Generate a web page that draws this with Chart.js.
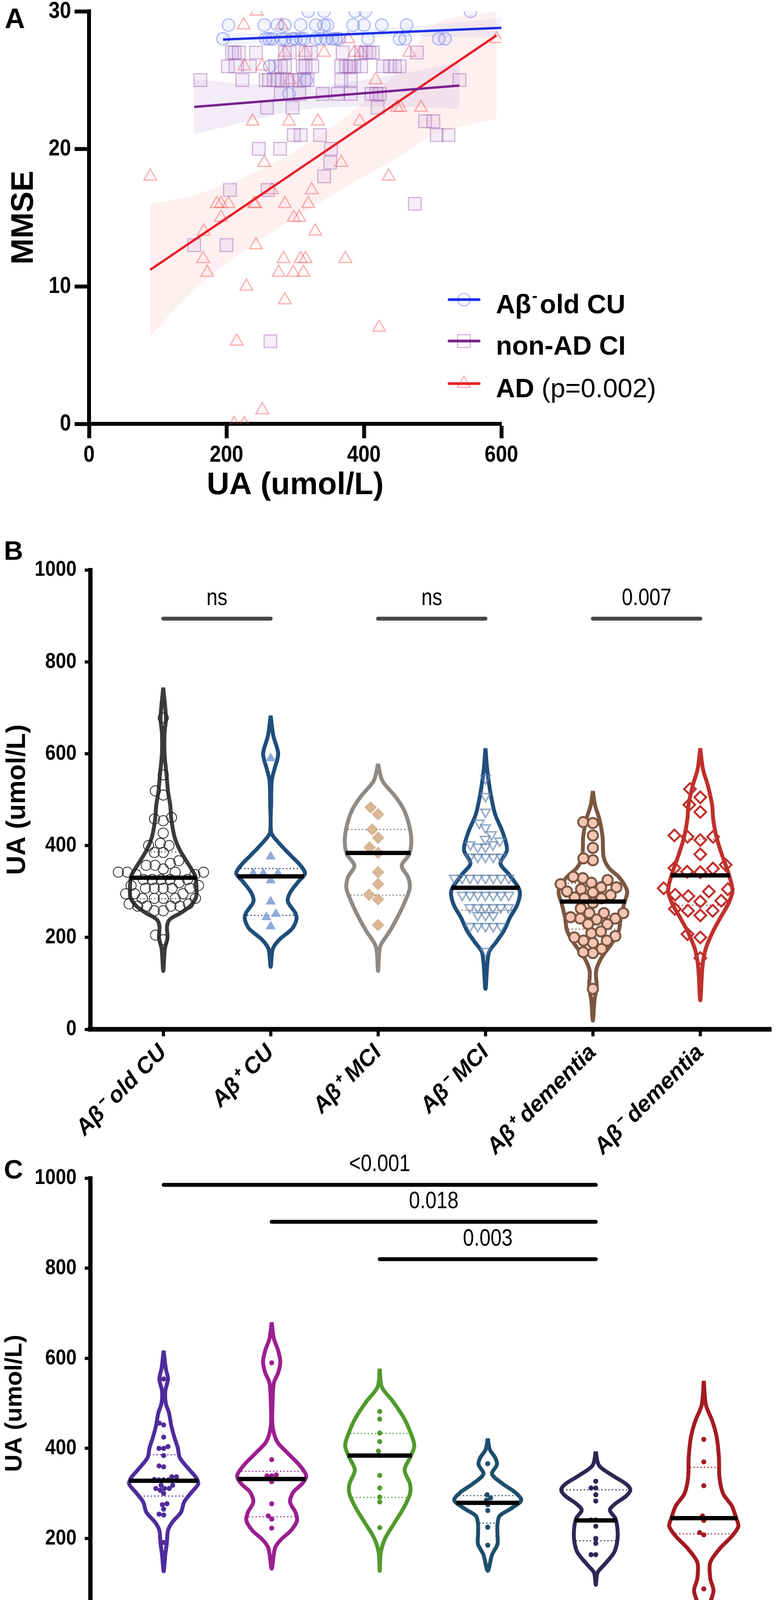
<!DOCTYPE html>
<html>
<head>
<meta charset="utf-8">
<script src="https://cdn.jsdelivr.net/npm/chart.js@4.4.1/dist/chart.umd.min.js"></script>
<style>
html, body { margin: 0; padding: 0; background: #fff; }
#wrap { position: relative; width: 1995px; height: 4608px; }
canvas { position: absolute; left: 0; }
</style>
</head>
<body>
<div id="wrap">
<canvas id="chartA" width="1995" height="1300" style="top:0;width:1995px;height:1300px"></canvas>
<canvas id="chartB" width="1995" height="1660" style="top:1300px;width:1995px;height:1660px"></canvas>
<canvas id="chartC" width="1995" height="1678" style="top:2930px;width:1995px;height:1678px"></canvas>
</div>
<script>
const FA = "'Liberation Sans',Arial,sans-serif";

// ---------- panel A : MMSE vs UA ----------
const cuX = [319,342,387,402,555, 203,255,274,285,308,330,342,347,384,400,426,462,
  195,257,262,267,280,285,296,301,308,313,330,337,345,354,359,364,406,452,460,509,518, 263,316,291];
const cuY = [30,30,30,30,30, 29,29,29,29,29,29,29,29,29,29,29,29,
  28,28,28,28,28,28,28,28,28,28,28,28,28,28,28,28,28,28,28,28,28, 26,25,24];

const ciX = [208,212,218,243,285,292,315,323,369,396,403,408,413,477,
  202,213,234,271,279,285,311,315,325,367,374,379,381,386,396,428,438,445,452,
  162,223,257,262,269,274,281,289,296,306,313,318,367,381,539,
  279,306,340,362,381,411,418,423, 259,296,420, 489,501, 298,308,336,506,523,
  247,278,352, 351, 342, 205,260, 474, 153,200, 264];
const ciY = [27,27,27,27,27,27,27,27,27,27,27,27,27,27,
  26,26,26,26,26,26,26,26,26,26,26,26,26,26,26,26,26,26,26,
  25,25,25,25,25,25,25,25,25,25,25,25,25,25,25,
  24,24,24,24,24,24,24,24, 23,23,23, 22,22, 21,21,21,21,21,
  20,20,20, 19, 18, 17,17, 16, 13,13, 6];

const adX = [244, 225,280, 377,593, 285,314,342,386,396,466, 226,252, 292,417, 448,453,483,
  238,291,333,394, 255,367, 89,436, 266,324, 186,192,203,240,242,285,319, 192,298,306,
  167,329, 243, 166,283,308,315,373, 172,276,297,312, 229, 285, 422, 215, 252, 211,226];
const adY = [30, 29,29, 28,28, 27,27,27,27,27,27, 26,26, 25,25, 23,23,23,
  22,22,22,22, 19,19, 18,18, 17,17, 16,16,16,16,16,16,16, 15,15,15,
  14,14, 13, 12,12,12,12,12, 11,11,11,11, 10, 9, 7, 6, 1, 0,0];

const fitCuX = [195, 600], fitCuY = [27.95, 28.8];
const fitCiX = [153, 539], fitCiY = [23.05, 24.6];
const fitAdX = [89, 593],  fitAdY = [11.2, 28.25];

const bandCuX = [195, 330, 450, 600], bandCuHi = [28.45, 28.48, 28.84, 29.5], bandCuLo = [27.45, 27.98, 28.14, 28.1];
const bandCiX = [153, 240, 320, 430, 539], bandCiHi = [25.05, 24.7, 24.5, 25.26, 26.3], bandCiLo = [21.05, 22.1, 22.9, 23.06, 22.9];
const bandAdX = [89, 164, 262, 359, 457, 501, 593];
const bandAdHi = [16.0, 16.8, 18.8, 21.8, 26.0, 29.0, 30.0];
const bandAdLo = [6.4, 10.2, 13.8, 16.8, 19.6, 21.0, 22.2];

// ---------- panel B ----------
const labelsB = ['Aβ⁻ old CU', 'Aβ⁺ CU', 'Aβ⁺ MCI', 'Aβ⁻ MCI', 'Aβ⁺ dementia', 'Aβ⁻ dementia'];
const ptsB1 = [678,554,510,519,458,454,461,427,400,405,400,385,385,367,361,357,357,342,342,342,337,337,342,349,
  326,326,326,326,326,319,307,313,313,307,307,307,307,285,285,295,285,285,295,295,285,273,273,268,258,268,258,268,268,195,205];
const ptsB2 = [590,376,339,339,339,324,278,251,244,224];
const ptsB3 = [483,468,435,417,396,384,342,316,293,283,227];
const ptsB4 = [546,507,473,449,439,424,414,397,397,402,402,410,375,375,375,375,375,329,329,329,329,329,329,329,329,
  292,292,292,292,292,292,292,265,265,265,265,265,265,248,248,248,224,224,224,224,224,170];
const ptsB5 = [451,449,422,395,368,372,329,332,325,316,305,309,319,309,298,292,285,287,285,275,300,263,253,253,253,
  241,244,239,229,241,209,229,213,203,188,193,200,193,175,166,168,88];
const ptsB6 = [523,505,489,473,419,422,412,419,381,350,358,343,342,351,293,307,305,300,290,278,280,262,258,248,258,207,200,155];
const medB = [330,333,384,308,278,335];
const q3B  = [386,350,435,380,318,414];
const q1B  = [284,248,292,259,218,270];

// violin outlines: level (umol/L) and half width (category units)
const vB1y = [744,678,644,600,556,517,488,458,419,390,361,346,332,307,287,268,253,239,224,200,175,127];
const vB1w = [0,.025,.012,.012,.03,.045,.065,.075,.105,.155,.23,.27,.30,.31,.305,.25,.16,.06,.035,.04,.015,0];
const vB2y = [683,639,600,566,541,493,429,410,380,356,339,322,297,278,253,239,219,195,175,136];
const vB2w = [0,.025,.07,.035,.01,.005,.005,.06,.18,.28,.32,.26,.18,.16,.23,.24,.2,.08,.02,0];
const vB3y = [578,541,507,478,444,410,381,356,331,307,278,248,214,180,127];
const vB3w = [0,.04,.16,.24,.29,.31,.29,.22,.28,.295,.25,.19,.11,.02,0];
const vB4y = [612,566,517,468,429,390,361,337,307,292,268,244,214,190,166,88];
const vB4w = [0,.016,.045,.09,.16,.2,.14,.22,.31,.32,.29,.23,.17,.1,.03,0];
const vB5y = [519,488,458,419,375,351,332,312,298,273,244,214,185,156,127,93,63,19];
const vB5w = [0,.02,.06,.09,.1,.15,.24,.3,.32,.29,.26,.24,.17,.08,.03,.035,.015,0];
const vB6y = [612,566,531,488,458,419,381,341,302,273,244,214,175,136,63];
const vB6w = [0,.025,.07,.11,.12,.15,.2,.26,.3,.26,.19,.12,.05,.02,0];

const sigBFrom = [1,3,5], sigBTo = [2,4,6], sigBY = [894,894,894], sigBText = ['ns','ns','0.007'];

// ---------- panel C ----------
const labelsC = ['Aβ⁻ old CU', 'Aβ+ CU', 'Aβ⁺ MCI', 'Aβ⁺ Dementia(CDR=1)', 'Aβ⁺ Dementia(CDR=2)', 'Aβ⁺ Dementia(CDR=3)'];
const ptsC1 = [554,456,452,425,404,400,400,384,359,361,337,337,331,330,330,330,318,318,307,311,311,311,300,277,275,265,254,252,191];
const ptsC2 = [590,375,341,339,339,326,277,250,243,223];
const ptsC3 = [482,465,434,415,394,384,340,312,292,281,224];
const ptsC4 = [366,297,290,285,275,262,225,185];
const ptsC5 = [327,312,312,297,283,241,241,227,200,189,164,164];
const ptsC6 = [420,370,317,250,240,213,208,88];
const medC = [328,332,384,279,240,245];
const q3C  = [386,349,433,295,308,358];
const q1C  = [294,248,291,234,195,210];

const vC1y = [617,577,554,527,500,478,451,424,402,379,352,335,321,303,281,258,236,218,191,164,127];
const vC1w = [0,.02,.04,.015,.02,.05,.07,.1,.13,.15,.24,.3,.32,.26,.19,.16,.08,.04,.03,.015,0];
const vC2y = [680,644,617,592,568,545,500,450,415,389,362,339,321,303,281,258,240,218,196,178,133];
const vC2w = [0,.02,.06,.08,.06,.02,.008,.008,.05,.15,.26,.32,.28,.2,.17,.22,.235,.18,.08,.03,0];
const vC3y = [577,536,505,469,438,406,379,352,321,299,267,232,200,169,128];
const vC3w = [0,.02,.12,.22,.28,.32,.28,.23,.28,.28,.22,.13,.05,.01,0];
const vC4y = [422,397,379,364,343,321,303,285,267,250,232,209,187,164,128];
const vC4w = [0,.02,.07,.085,.04,.14,.25,.31,.22,.11,.09,.09,.09,.04,0];
const vC5y = [393,362,339,321,308,294,277,263,245,223,196,169,142,124,97];
const vC5w = [0,.03,.16,.28,.32,.28,.18,.13,.18,.2,.2,.17,.08,.016,0];
const vC6y = [550,496,460,424,379,335,299,272,245,227,205,178,147,111,84,52,21,1];
const vC6w = [0,.02,.08,.12,.14,.145,.18,.26,.3,.32,.26,.15,.06,.06,.09,.05,.016,0];

const sigCFrom = [1,2,3], sigCTo = [5,5,5], sigCY = [985,903,820], sigCText = ['<0.001','0.018','0.003'];

// ---------- helpers ----------
function xy(xs, ys) { return xs.map((x, i) => ({ x: x, y: ys[i] })); }

function halfAt(ys, ws, v) {
  for (let i = 0; i < ys.length - 1; i++) {
    if (v <= ys[i] && v >= ys[i + 1]) {
      const t = (ys[i] - v) / (ys[i] - ys[i + 1]);
      return ws[i] + t * (ws[i + 1] - ws[i]);
    }
  }
  return 0;
}

// simple beeswarm: nearest free horizontal slot, in pixels
function swarm(vals, d, pxY, pxX) {
  const placed = [], out = new Array(vals.length);
  const idx = vals.map((v, i) => i).sort((a, b) => vals[a] - vals[b]);
  idx.forEach(i => {
    const y = vals[i] * pxY, blocks = [];
    placed.forEach(p => {
      const dy = Math.abs(p.y - y);
      if (dy < d) { const h = Math.sqrt(d * d - dy * dy); blocks.push([p.x - h, p.x + h]); }
    });
    const cands = [0];
    blocks.forEach(b => cands.push(b[0], b[1]));
    cands.sort((a, b) => Math.abs(a) - Math.abs(b));
    const x = cands.find(c => blocks.every(b => c <= b[0] + 1e-6 || c >= b[1] - 1e-6));
    placed.push({ x: x, y: y });
    out[i] = x / pxX;
  });
  return out;
}

// text with optional horizontal squeeze (the figure uses a condensed face)
function text(ctx, s, x, y, font, align, base, rot, hs) {
  ctx.save();
  ctx.translate(x, y);
  if (rot) ctx.rotate(rot);
  if (hs) ctx.scale(hs, 1);
  ctx.font = font;
  ctx.fillStyle = '#000';
  ctx.textAlign = align || 'left';
  ctx.textBaseline = base || 'alphabetic';
  ctx.fillText(s, 0, 0);
  ctx.restore();
}

function yTickLabels(chart, size, pad) {
  const s = chart.scales.y;
  s.ticks.forEach(t => {
    text(chart.ctx, String(t.value), s.right - s.options.grid.tickLength - pad, s.getPixelForValue(t.value),
      'bold ' + size + 'px ' + FA, 'right', 'middle', 0, 0.86);
  });
}

function violinSets(g) {
  const ds = [];
  g.profY.forEach((ys, k) => {
    const c = k + 1, ws = g.profW[k], col = g.colors[k];
    const outline = [];
    for (let i = 0; i < ys.length; i++) outline.push({ x: c - ws[i], y: ys[i] });
    for (let i = ys.length - 2; i >= 0; i--) outline.push({ x: c + ws[i], y: ys[i] });
    ds.push({ type: 'line', data: outline, borderColor: col, borderWidth: 10, tension: 0.3,
      pointRadius: 0, fill: false, order: 3, borderJoinStyle: 'round' });
    [g.q1[k], g.q3[k]].forEach(q => {
      const h = halfAt(ys, ws, q) - 0.014;
      ds.push({ type: 'line', data: [{ x: c - h, y: q }, { x: c + h, y: q }], borderColor: g.qColors[k],
        borderWidth: 3, borderDash: [3, 6], pointRadius: 0, order: 2 });
    });
    const m = g.med[k], hm = halfAt(ys, ws, m) + 0.01;
    ds.push({ type: 'line', data: [{ x: c - hm, y: m }, { x: c + hm, y: m }], borderColor: '#000',
      borderWidth: 11, pointRadius: 0, order: 0 });
    const off = swarm(g.pts[k], g.swarmD[k], g.pxY, 277);
    ds.push(Object.assign({ type: 'scatter', order: 1,
      data: g.pts[k].map((v, i) => ({ x: c + off[i], y: v })) }, g.marks[k]));
  });
  return ds;
}

function violinScales(labels, xH, fs) {
  return {
    x: {
      type: 'linear', min: 0.32, max: 6.66,
      afterBuildTicks: ax => { ax.ticks = labels.map((l, i) => ({ value: i + 1 })); },
      afterFit: s => { s.height = xH; },
      ticks: {
        autoSkip: false, minRotation: 45, maxRotation: 45, padding: 8, color: '#000',
        font: { family: FA, size: fs, weight: 'bold', style: 'italic' },
        callback: v => labels[Math.round(v) - 1] || ''
      },
      grid: { drawOnChartArea: false, drawTicks: true, tickLength: 18, tickWidth: 8, tickColor: '#000' },
      border: { width: 12, color: '#000' }
    },
    y: {
      min: 0, max: 1000,
      afterFit: s => { s.width = 231; },
      ticks: { stepSize: 200, display: false },
      grid: { drawOnChartArea: false, drawTicks: true, tickLength: 14, tickWidth: 8, tickColor: '#000' },
      border: { width: 11, color: '#000' }
    }
  };
}

function sigBars(chart, from, to, ys, labels, color) {
  const ctx = chart.ctx, sx = chart.scales.x, sy = chart.scales.y;
  from.forEach((f, i) => {
    const x1 = sx.getPixelForValue(f), x2 = sx.getPixelForValue(to[i]), y = sy.getPixelForValue(ys[i]);
    ctx.save();
    ctx.strokeStyle = color; ctx.lineWidth = 10; ctx.lineCap = 'round';
    ctx.beginPath(); ctx.moveTo(x1, y); ctx.lineTo(x2, y); ctx.stroke();
    ctx.restore();
    text(ctx, labels[i], (x1 + x2) / 2, y - 52, '62px ' + FA, 'center', 'middle', 0, 0.82);
  });
}

const baseOpts = { responsive: false, animation: false, devicePixelRatio: 1, events: [],
  plugins: { legend: { display: false }, tooltip: { enabled: false } } };

// ---------- chart A ----------
const panelA = {
  id: 'panelA',
  afterDraw(chart) {
    const ctx = chart.ctx, a = chart.chartArea, sx = chart.scales.x;
    yTickLabels(chart, 60, 9);
    sx.ticks.forEach(t => text(ctx, String(t.value), sx.getPixelForValue(t.value), a.bottom + 80,
      'bold 60px ' + FA, 'center', 'middle', 0, 0.86));
    text(ctx, 'A', 12, 72, 'bold 72px ' + FA);
    text(ctx, 'MMSE', 62, (a.top + a.bottom) / 2, 'bold 80px ' + FA, 'center', 'middle', -Math.PI / 2);
    text(ctx, 'UA (umol/L)', (a.left + a.right) / 2, 1243, 'bold 80px ' + FA, 'center', 'middle');
    const rows = [
      { y: 767, col: '#1a2ee8', mk: 'rgba(90,110,230,0.45)', st: 'circle', r: 16 },
      { y: 873, col: '#7b1f8f', mk: 'rgba(150,90,170,0.45)', st: 'rect', r: 23 },
      { y: 982, col: '#e8202a', mk: 'rgba(240,80,80,0.45)', st: 'triangle', r: 19 }
    ];
    rows.forEach(r => {
      ctx.save();
      ctx.strokeStyle = r.mk; ctx.fillStyle = 'rgba(255,255,255,0)'; ctx.lineWidth = 3;
      Chart.helpers.drawPoint(ctx, { pointStyle: r.st, radius: r.r, borderWidth: 3, rotation: 0 }, 1188, r.y);
      ctx.strokeStyle = r.col; ctx.lineWidth = 7; ctx.lineCap = 'round';
      ctx.beginPath(); ctx.moveTo(1150, r.y); ctx.lineTo(1227, r.y); ctx.stroke();
      ctx.restore();
    });
    const bf = 'bold 68px ' + FA;
    ctx.font = bf;
    let x = 1270;
    text(ctx, 'Aβ', x, 802, bf); x += ctx.measureText('Aβ').width + 2;
    text(ctx, '-', x, 772, 'bold 42px ' + FA); ctx.font = 'bold 42px ' + FA; x += ctx.measureText('-').width + 6;
    text(ctx, 'old CU', x, 802, bf);
    text(ctx, 'non-AD CI', 1270, 908, bf);
    text(ctx, 'AD', 1270, 1017, bf);
    ctx.font = bf;
    text(ctx, ' (p=0.002)', 1270 + ctx.measureText('AD').width, 1017, '68px ' + FA);
  }
};

const bandStyle = (col) => ({ type: 'line', borderColor: 'rgba(0,0,0,0)', pointRadius: 0, tension: 0.4, order: 4, backgroundColor: col });

new Chart(document.getElementById('chartA'), {
  type: 'scatter',
  data: { datasets: [
    { type: 'line', data: xy(fitCuX, fitCuY), borderColor: '#1a2ee8', borderWidth: 6, pointRadius: 0, order: 0 },
    { type: 'line', data: xy(fitCiX, fitCiY), borderColor: '#7b1f8f', borderWidth: 6, pointRadius: 0, order: 0 },
    { type: 'line', data: xy(fitAdX, fitAdY), borderColor: '#e8202a', borderWidth: 6, pointRadius: 0, order: 0 },
    { data: xy(cuX, cuY), pointStyle: 'circle', pointRadius: 16, pointBorderWidth: 3,
      pointBorderColor: 'rgba(90,110,230,0.45)', pointBackgroundColor: 'rgba(120,140,240,0.10)', order: 1 },
    { data: xy(ciX, ciY), pointStyle: 'rect', pointRadius: 23, pointBorderWidth: 3,
      pointBorderColor: 'rgba(150,90,170,0.42)', pointBackgroundColor: 'rgba(200,160,220,0.18)', order: 1 },
    { data: xy(adX, adY), pointStyle: 'triangle', pointRadius: 19, pointBorderWidth: 3,
      pointBorderColor: 'rgba(240,80,80,0.45)', pointBackgroundColor: 'rgba(255,200,200,0.12)', order: 1 },
    Object.assign(bandStyle('rgba(130,150,240,0.10)'), { data: xy(bandCuX, bandCuHi), fill: '+1' }),
    Object.assign(bandStyle('rgba(0,0,0,0)'), { data: xy(bandCuX, bandCuLo), fill: false }),
    Object.assign(bandStyle('rgba(190,160,215,0.20)'), { data: xy(bandCiX, bandCiHi), fill: '+1' }),
    Object.assign(bandStyle('rgba(0,0,0,0)'), { data: xy(bandCiX, bandCiLo), fill: false }),
    Object.assign(bandStyle('rgba(250,185,185,0.22)'), { data: xy(bandAdX, bandAdHi), fill: '+1' }),
    Object.assign(bandStyle('rgba(0,0,0,0)'), { data: xy(bandAdX, bandAdLo), fill: false })
  ] },
  options: Object.assign({}, baseOpts, {
    layout: { padding: { top: 29, right: 711, left: 0, bottom: 0 } },
    scales: {
      x: { type: 'linear', min: 0, max: 600,
        afterFit: s => { s.height = 215; },
        ticks: { stepSize: 200, display: false },
        grid: { drawOnChartArea: false, drawTicks: true, tickLength: 37, tickWidth: 10, tickColor: '#000' },
        border: { width: 10, color: '#000' } },
      y: { min: 0, max: 30,
        afterFit: s => { s.width = 228; },
        ticks: { stepSize: 10, display: false },
        grid: { drawOnChartArea: false, drawTicks: true, tickLength: 37, tickWidth: 10, tickColor: '#000' },
        border: { width: 10, color: '#000' } }
    }
  }),
  plugins: [panelA]
});

// ---------- chart B ----------
const groupB = {
  profY: [vB1y, vB2y, vB3y, vB4y, vB5y, vB6y],
  profW: [vB1w, vB2w, vB3w, vB4w, vB5w, vB6w],
  pts: [ptsB1, ptsB2, ptsB3, ptsB4, ptsB5, ptsB6],
  med: medB, q1: q1B, q3: q3B,
  colors: ['#3b3b3b', '#1f4e7a', '#8f8a86', '#1f4e7a', '#7b5741', '#c0302b'],
  qColors: ['#555', '#1f3f66', '#777', '#666', '#7b5741', '#b0403b'],
  swarmD: [23, 26, 26, 20, 25, 34], pxY: 1.176,
  marks: [
    { pointStyle: 'circle', pointRadius: 13, pointBorderWidth: 2, pointBorderColor: '#222', pointBackgroundColor: 'rgba(255,255,255,0)' },
    { pointStyle: 'triangle', pointRadius: 14, pointBorderWidth: 1, pointBorderColor: '#8eaadb', pointBackgroundColor: '#8eaadb' },
    { pointStyle: 'rectRot', pointRadius: 15, pointBorderWidth: 1, pointBorderColor: '#b8916d', pointBackgroundColor: '#d8b794' },
    { pointStyle: 'triangle', pointRotation: 180, pointRadius: 14, pointBorderWidth: 4, pointBorderColor: 'rgba(95,130,175,0.65)', pointBackgroundColor: 'rgba(255,255,255,0)' },
    { pointStyle: 'circle', pointRadius: 13, pointBorderWidth: 5, pointBorderColor: '#7b5741', pointBackgroundColor: '#f5c6b3' },
    { pointStyle: 'rectRot', pointRadius: 15, pointBorderWidth: 5, pointBorderColor: '#c0302b', pointBackgroundColor: 'rgba(255,255,255,0)' }
  ]
};

new Chart(document.getElementById('chartB'), {
  type: 'scatter',
  data: { datasets: violinSets(groupB) },
  options: Object.assign({}, baseOpts, {
    layout: { padding: { top: 159, right: 10, left: 0, bottom: 0 } },
    scales: violinScales(labelsB, 325, 58)
  }),
  plugins: [{
    id: 'panelB',
    afterDraw(chart) {
      const ctx = chart.ctx, a = chart.chartArea;
      yTickLabels(chart, 56, 21);
      text(ctx, 'B', 10, 133, 'bold 68px ' + FA);
      text(ctx, 'UA (umol/L)', 45, (a.top + a.bottom) / 2, 'bold 68px ' + FA, 'center', 'middle', -Math.PI / 2);
      sigBars(chart, sigBFrom, sigBTo, sigBY, sigBText, '#474747');
    }
  }]
});

// ---------- chart C ----------
const groupC = {
  profY: [vC1y, vC2y, vC3y, vC4y, vC5y, vC6y],
  profW: [vC1w, vC2w, vC3w, vC4w, vC5w, vC6w],
  pts: [ptsC1, ptsC2, ptsC3, ptsC4, ptsC5, ptsC6],
  med: medC, q1: q1C, q3: q3C,
  colors: ['#4f2c9c', '#9c1f90', '#519a2d', '#1d4e6c', '#2f2654', '#a31b22'],
  qColors: ['#4f2c9c', '#9c1f90', '#519a2d', '#1d4e6c', '#2f2654', '#a31b22'],
  swarmD: [12, 12, 12, 12, 12, 12], pxY: 1.153,
  marks: []
};
groupC.colors.forEach(c => groupC.marks.push({ pointStyle: 'circle', pointRadius: 6.5, pointBorderWidth: 0,
  pointBorderColor: c, pointBackgroundColor: c }));

new Chart(document.getElementById('chartC'), {
  type: 'scatter',
  data: { datasets: violinSets(groupC) },
  options: Object.assign({}, baseOpts, {
    layout: { padding: { top: 86, right: 10, left: 0, bottom: 0 } },
    scales: violinScales(labelsC, 439, 51)
  }),
  plugins: [{
    id: 'panelC',
    afterDraw(chart) {
      const ctx = chart.ctx, a = chart.chartArea;
      yTickLabels(chart, 56, 21);
      text(ctx, 'C', 10, 87, 'bold 68px ' + FA);
      text(ctx, 'UA (umol/L)', 38, (a.top + a.bottom) / 2, 'bold 62px ' + FA, 'center', 'middle', -Math.PI / 2);
      sigBars(chart, sigCFrom, sigCTo, sigCY, sigCText, '#000');
    }
  }]
});
</script>
</body>
</html>
